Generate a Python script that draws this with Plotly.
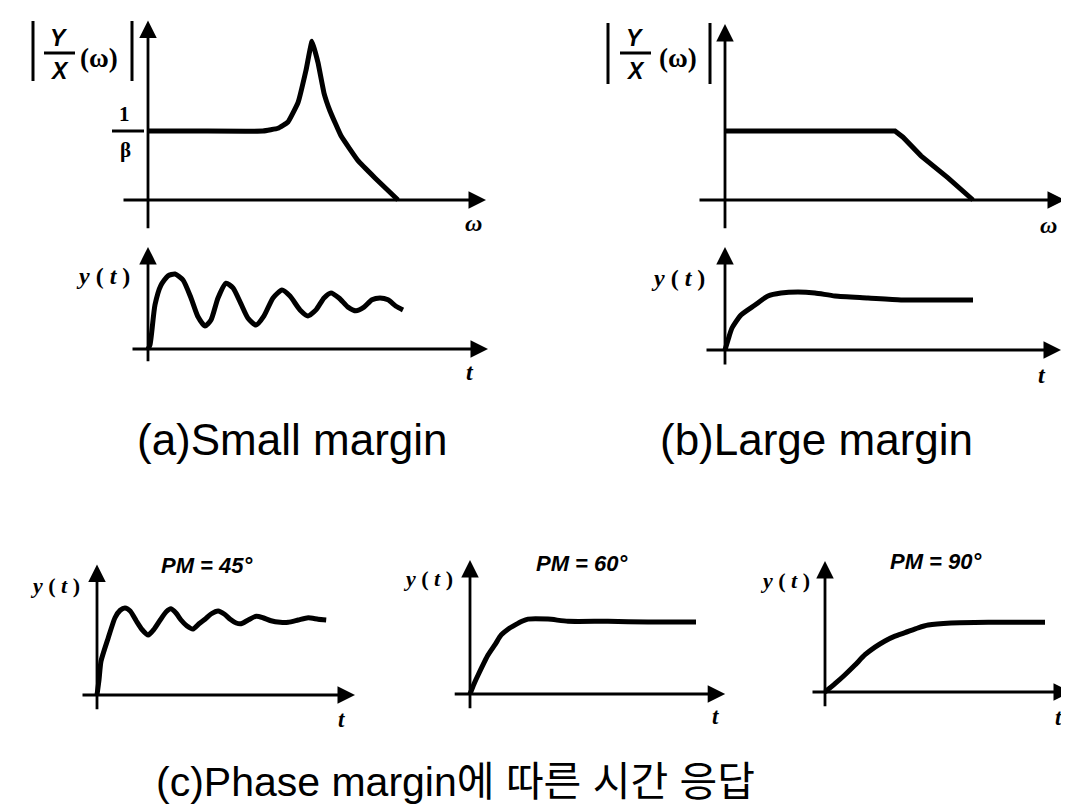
import plotly.graph_objects as go

W, H = 1069, 805

# ---------------- data ----------------
# (a) small margin : frequency response |Y/X(w)|, 1/beta = 1
a_freq_w   = [0, 1.0, 2.3, 2.6, 2.8, 3.0, 3.16, 3.28, 3.4, 3.52, 3.64, 3.86, 4.2, 4.54, 5.0]
a_freq_mag = [1.0, 1.0, 1.0, 1.04, 1.13, 1.41, 1.88, 2.30, 1.99, 1.55, 1.29, 0.93, 0.57, 0.32, 0.0]

# (a) small margin : step response y(t)
a_time_t = [0, 0.04, 0.14, 0.26, 0.4, 0.54, 0.7, 0.86, 1.0, 1.14, 1.26, 1.4, 1.56, 1.7, 1.86, 2.0,
            2.16, 2.32, 2.5, 2.68, 2.84, 3.04, 3.2, 3.36, 3.52, 3.66, 3.82, 4.0, 4.16, 4.32, 4.48,
            4.64, 4.8, 4.96, 5.1]
a_time_y = [0, 0.09, 0.96, 1.39, 1.59, 1.63, 1.50, 1.11, 0.70, 0.50, 0.63, 1.11, 1.43, 1.33, 0.98, 0.67,
            0.52, 0.72, 1.11, 1.28, 1.15, 0.85, 0.72, 0.85, 1.11, 1.22, 1.11, 0.91, 0.83, 0.91, 1.07,
            1.11, 1.07, 0.93, 0.85]

# (b) large margin : frequency response
b_freq_w   = [0, 3.4, 3.56, 3.92, 4.46, 4.96]
b_freq_mag = [1.0, 1.0, 0.91, 0.64, 0.32, 0.0]

# (b) large margin : step response
b_time_t = [0, 0.06, 0.14, 0.32, 0.6, 0.86, 1.12, 1.46, 1.8, 2.2, 2.86, 3.52, 4.26, 4.96]
b_time_y = [0, 0.2, 0.44, 0.7, 0.9, 1.08, 1.14, 1.16, 1.14, 1.08, 1.04, 1.0, 1.0, 1.0]

# (c) step responses for different phase margins
c45_t = [0, 0.05, 0.1, 0.28, 0.45, 0.58, 0.7, 0.83, 0.98, 1.13, 1.28, 1.43, 1.58, 1.73, 1.85, 1.98,
         2.1, 2.25, 2.4, 2.55, 2.7, 2.85, 3.03, 3.18, 3.33, 3.48, 3.6, 3.78, 3.98, 4.15, 4.35, 4.58,
         4.78, 5.03, 5.28, 5.53, 5.73]
c45_y = [0, 0.2, 0.45, 0.76, 1.03, 1.13, 1.16, 1.12, 0.99, 0.87, 0.8, 0.88, 1.0, 1.11, 1.15, 1.09,
         1.0, 0.92, 0.88, 0.95, 1.01, 1.08, 1.12, 1.08, 1.01, 0.96, 0.95, 1.0, 1.05, 1.03, 0.99, 0.97,
         0.97, 1.0, 1.03, 1.01, 1.0]
c60_t = [0, 0.1, 0.2, 0.45, 0.63, 0.78, 0.95, 1.13, 1.3, 1.45, 1.95, 2.45, 3.45, 4.45, 5.65]
c60_y = [0, 0.14, 0.26, 0.54, 0.69, 0.82, 0.9, 0.96, 1.01, 1.04, 1.04, 1.01, 1.01, 1.0, 1.0]
c90_t = [0, 0.25, 0.5, 0.75, 1.0, 1.25, 1.5, 1.75, 2.0, 2.33, 2.58, 3.15, 4.08, 5.5]
c90_y = [0, 0.12, 0.25, 0.39, 0.54, 0.65, 0.74, 0.81, 0.86, 0.93, 0.97, 1.0, 1.01, 1.01]

pm_labels = ["PM = 45°", "PM = 60°", "PM = 90°"]
captions = ["(a)Small margin", "(b)Large margin", "(c)Phase margin에 따른 시간 응답"]

# ---------------- layout helpers ----------------
fig = go.Figure()
annotations, shapes = [], []
LBL = "Liberation Serif, DejaVu Serif, serif"
SANS = "Liberation Sans, Arial, Noto Sans CJK KR, sans-serif"


def px(x):
    return x / W


def py(y):
    return 1 - y / H


def panel(i, origin, sx, sy, box, xaxis_ext, yaxis_ext, xs, ys, smooth=0.6):
    ox, oy = origin
    x0, x1, y0, y1 = box
    xa = "xaxis" if i == 1 else f"xaxis{i}"
    ya = "yaxis" if i == 1 else f"yaxis{i}"
    xr = "x" if i == 1 else f"x{i}"
    yr = "y" if i == 1 else f"y{i}"
    fig.update_layout(**{
        xa: dict(domain=[x0 / W, x1 / W], range=[(x0 - ox) / sx, (x1 - ox) / sx], visible=False,
                 anchor=yr, fixedrange=True),
        ya: dict(domain=[1 - y1 / H, 1 - y0 / H], range=[(oy - y1) / sy, (oy - y0) / sy], visible=False,
                 anchor=xr, fixedrange=True),
    })
    # curve
    line_kw = dict(color="black", width=5)
    if smooth > 0:
        line_kw.update(shape="spline", smoothing=smooth)
    fig.add_trace(go.Scatter(x=xs, y=ys, xaxis=xr, yaxis=yr, mode="lines", line=line_kw,
                             hoverinfo="skip", showlegend=False))
    # axes with arrows
    common = dict(xref=xr, yref=yr, axref=xr, ayref=yr, text="", showarrow=True,
                  arrowhead=2, arrowsize=1.25, arrowwidth=2.8, arrowcolor="black")
    annotations.append(dict(x=xaxis_ext[1], y=0, ax=xaxis_ext[0], ay=0, **common))
    annotations.append(dict(x=0, y=yaxis_ext[1], ax=0, ay=yaxis_ext[0], **common))
    return xr, yr


def label(text, x, y, size=20, family=LBL, xanchor="center"):
    annotations.append(dict(text=text, x=px(x), y=py(y), xref="paper", yref="paper",
                            showarrow=False, xanchor=xanchor, yanchor="middle",
                            font=dict(family=family, size=size, color="black")))


def line(x0, y0, x1, y1, w=2.5):
    shapes.append(dict(type="line", xref="paper", yref="paper", x0=px(x0), y0=py(y0),
                       x1=px(x1), y1=py(y1), line=dict(color="black", width=w)))


def mag_label(xb0, xb1, xf, xw, ytop, ybot):
    line(xb0, ytop, xb0, ybot, 3)
    line(xb1, ytop, xb1, ybot, 3)
    label("<b><i>Y</i></b>", xf, 30, 23, family=SANS)
    line(xf - 15, 45, xf + 16, 45, 3)
    label("<b><i>X</i></b>", xf, 63, 23, family=SANS)
    label("<b>(ω)</b>", xw, 50, 27)


YT = "<b><i>y</i> ( <i>t</i> )</b>"

# (a) frequency
panel(1, (140, 192), 50, 69, (95, 485, 5, 235), (-0.52, 6.76), (-0.43, 2.6),
      a_freq_w, a_freq_mag, smooth=0.3)
mag_label(25, 124, 51, 91, 13, 73)
label("<b>1</b>", 116, 106, 21)
line(104, 123, 136, 123, 3)
label("<b>β</b>", 117, 142, 21)
label("<b><i>ω</i></b>", 465, 215, 24)

# (a) time
panel(2, (140, 341), 50, 46, (95, 485, 235, 380), (-0.34, 6.8), (-0.3, 2.22),
      a_time_t, a_time_y)
label(YT, 95, 268, 24)
label("<b><i>t</i></b>", 462, 364, 24)

# (b) frequency
panel(3, (717, 192), 50, 69, (680, 1065, 5, 235), (-0.54, 6.8), (-0.43, 2.55),
      b_freq_w, b_freq_mag, smooth=0)
mag_label(600, 702, 627, 670, 15, 76)
label("<b><i>ω</i></b>", 1040, 217, 24)

# (b) time
panel(4, (717, 342), 50, 50, (680, 1065, 235, 380), (-0.4, 6.72), (-0.32, 2.06),
      b_time_t, b_time_y)
label(YT, 670, 270, 24)
label("<b><i>t</i></b>", 1034, 367, 24)

# (c) phase margins
c_specs = [
    (5, (89, 687), 40, 75, (40, 360, 540, 720), (-0.4, 6.45), (-0.21, 1.74), c45_t, c45_y),
    (6, (462, 686), 40, 72, (400, 725, 540, 720), (-0.42, 6.38), (-0.22, 1.86), c60_t, c60_y),
    (7, (817, 684), 40, 69, (760, 1069, 540, 720), (-0.35, 6.15), (-0.23, 1.9), c90_t, c90_y),
]
pm_pos = [(199, 557), (574, 555), (928, 553)]
yt_pos = [(47, 577), (420, 570), (777, 572)]
t_pos = [(333, 711), (707, 708), (1050, 709)]
for k, spec in enumerate(c_specs):
    panel(*spec)
    label(f"<b><i>{pm_labels[k]}</i></b>", pm_pos[k][0], pm_pos[k][1], 22, family=SANS)
    label(YT, yt_pos[k][0], yt_pos[k][1], 22)
    label("<b><i>t</i></b>", t_pos[k][0], t_pos[k][1], 23)

# captions
label(captions[0], 284, 431, 44, family=SANS)
label(captions[1], 808, 431, 44, family=SANS)
label(captions[2], 447, 774, 41, family=SANS)

fig.update_layout(width=W, height=H, margin=dict(l=0, r=0, t=0, b=0),
                  paper_bgcolor="white", plot_bgcolor="white",
                  annotations=annotations, shapes=shapes, showlegend=False)

fig.write_html("out.html")
